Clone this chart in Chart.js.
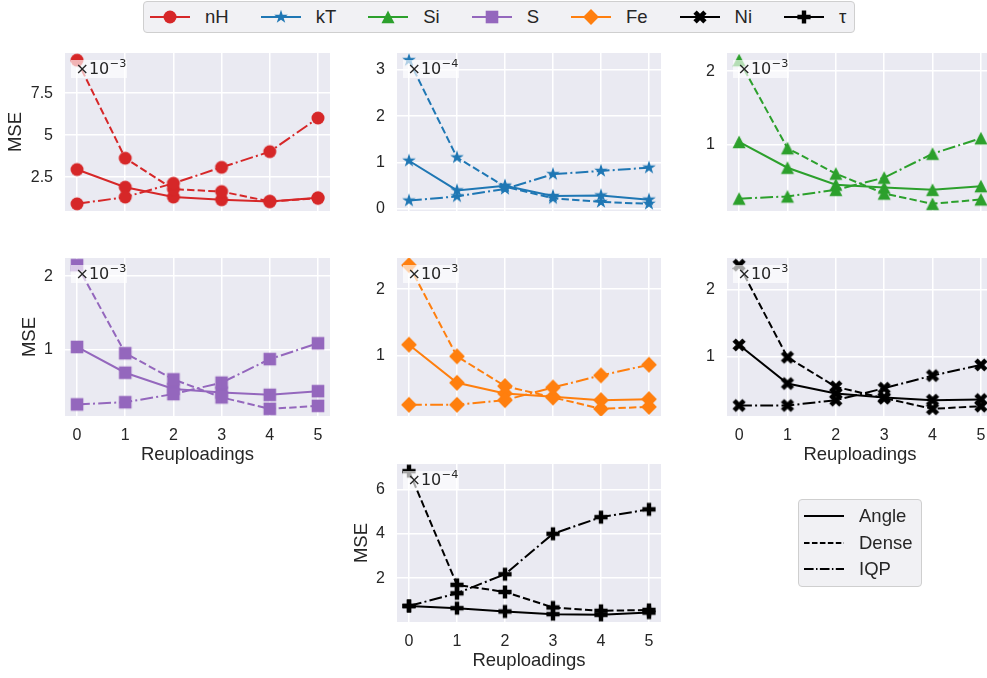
<!DOCTYPE html>
<html>
<head>
<meta charset="utf-8">
<script src="https://cdn.jsdelivr.net/npm/chart.js@4.4.1/dist/chart.umd.min.js"></script>
<style>
  body { margin: 0; width: 987px; height: 678px; overflow: hidden; background: #fff; position: relative;
         font-family: "Liberation Sans", Arial, sans-serif; color: #262626; }
  canvas.panel { position: absolute; }
  .legend { position: absolute; box-sizing: border-box; background: #f1f1f4; border: 1px solid #cfcfcf;
            border-radius: 4px; font-size: 18.5px; }
  #legendTop { left: 143px; top: 1px; height: 32px; padding-left: 6px; padding-right: 8px; display: flex; align-items: center; }
  #legendTop .item { display: flex; align-items: center; margin-right: 32px; }
  #legendTop .item:last-child { margin-right: 0; }
  #legendTop canvas, #legendMethods canvas { display: block; margin-right: 15px; }
  #legendMethods { left: 798px; top: 499px; width: 124px; height: 88px; padding: 2.5px 0 0 5px; }
  #legendMethods .item { display: flex; align-items: center; height: 26.7px; }
</style>
</head>
<body>
<div id="legendTop" class="legend"></div>
<div id="legendMethods" class="legend"></div>
<script>
// x values and method names
const reuploadings = [0, 1, 2, 3, 4, 5];
const xTicks = [0, 1, 2, 3, 4, 5];
const methodNames = ['Angle', 'Dense', 'IQP'];

// nH (x1e-3)
const nHAngle = [2.96, 1.91, 1.32, 1.16, 1.06, 1.28];
const nHDense = [9.46, 3.63, 1.79, 1.65, 1.06, 1.25];
const nHIQP   = [0.92, 1.32, 2.14, 3.09, 4.02, 6.02];
// kT (x1e-4)
const kTAngle = [1.04, 0.40, 0.50, 0.28, 0.29, 0.20];
const kTDense = [3.21, 1.11, 0.48, 0.23, 0.15, 0.11];
const kTIQP   = [0.18, 0.27, 0.43, 0.75, 0.82, 0.89];
// Si (x1e-3)
const siAngle = [1.04, 0.69, 0.46, 0.42, 0.39, 0.44];
const siDense = [2.15, 0.955, 0.61, 0.34, 0.20, 0.26];
const siIQP   = [0.27, 0.30, 0.39, 0.555, 0.88, 1.09];
// S (x1e-3)
const sAngle = [1.04, 0.69, 0.47, 0.42, 0.39, 0.44];
const sDense = [2.15, 0.955, 0.60, 0.355, 0.20, 0.24];
const sIQP   = [0.26, 0.29, 0.40, 0.555, 0.875, 1.09];
// Fe (x1e-3)
const feAngle = [1.17, 0.60, 0.44, 0.39, 0.34, 0.355];
const feDense = [2.36, 0.995, 0.55, 0.38, 0.21, 0.24];
const feIQP   = [0.27, 0.27, 0.34, 0.53, 0.71, 0.87];
// Ni (x1e-3)
const niAngle = [1.17, 0.59, 0.44, 0.38, 0.34, 0.35];
const niDense = [2.37, 0.985, 0.54, 0.37, 0.21, 0.25];
const niIQP   = [0.26, 0.26, 0.34, 0.52, 0.71, 0.87];
// tau (x1e-4)
const tauAngle = [0.75, 0.65, 0.50, 0.38, 0.35, 0.45];
const tauDense = [6.82, 1.70, 1.38, 0.68, 0.53, 0.57];
const tauIQP   = [0.75, 1.32, 2.18, 4.00, 4.75, 5.10];

// y tick values / labels
const nHTicks = [2.5, 5, 7.5];   const nHTickLabels = ['2.5', '5', '7.5'];
const kTTicks = [0, 1, 2, 3];    const kTTickLabels = ['0', '1', '2', '3'];
const oneTwoTicks = [1, 2];      const oneTwoTickLabels = ['1', '2'];
const tauTicks = [2, 4, 6];      const tauTickLabels = ['2', '4', '6'];

const TICK_FONT = { family: 'Liberation Sans', size: 16 };
const LABEL_FONT = { family: 'Liberation Sans', size: 18.5 };
const TEXT = '#262626';
const DASHES = [[], [7.4, 3.2], [12.8, 3.2, 2, 3.2]];
const TOP_PAD = 12, RIGHT_PAD = 12;

// box = plot area [left, top, width, height]
const panels = [
  { label: 'nH', color: '#d62728', marker: 'circle',   series: [nHAngle, nHDense, nHIQP],    ticks: nHTicks, tickLabels: nHTickLabels, exp: '\u22123', box: [65, 53, 265, 158],  showX: false, yTitleX: 16.3 },
  { label: 'kT', color: '#1f77b4', marker: 'star',     series: [kTAngle, kTDense, kTIQP],    ticks: kTTicks, tickLabels: kTTickLabels, exp: '\u22124', box: [397, 53, 264, 158], showX: false },
  { label: 'Si', color: '#2ca02c', marker: 'triangle', series: [siAngle, siDense, siIQP],    ticks: oneTwoTicks, tickLabels: oneTwoTickLabels, exp: '\u22123', box: [727, 53, 266, 158], showX: false },
  { label: 'S',  color: '#9467bd', marker: 'square',   series: [sAngle, sDense, sIQP],       ticks: oneTwoTicks, tickLabels: oneTwoTickLabels, exp: '\u22123', box: [65, 258, 265, 158], showX: true, yTitleX: 30 },
  { label: 'Fe', color: '#ff7f0e', marker: 'diamond',  series: [feAngle, feDense, feIQP],    ticks: oneTwoTicks, tickLabels: oneTwoTickLabels, exp: '\u22123', box: [397, 258, 264, 158], showX: false },
  { label: 'Ni', color: '#000000', marker: 'x',        series: [niAngle, niDense, niIQP],    ticks: oneTwoTicks, tickLabels: oneTwoTickLabels, exp: '\u22123', box: [727, 258, 266, 158], showX: true },
  { label: '\u03c4', color: '#000000', marker: 'plus', series: [tauAngle, tauDense, tauIQP], ticks: tauTicks, tickLabels: tauTickLabels, exp: '\u22124', box: [397, 464, 264, 158], showX: true, yTitleX: 362.5 }
];

// matplotlib-like marker shapes
function markerPath(ctx, shape) {
  ctx.beginPath();
  if (shape === 'circle') {
    ctx.arc(0, 0, 6.5, 0, Math.PI * 2);
  } else if (shape === 'square') {
    ctx.rect(-6.3, -6.3, 12.6, 12.6);
  } else if (shape === 'diamond') {
    ctx.moveTo(0, -7.9); ctx.lineTo(7.9, 0); ctx.lineTo(0, 7.9); ctx.lineTo(-7.9, 0); ctx.closePath();
  } else if (shape === 'triangle') {
    ctx.moveTo(0, -6.5); ctx.lineTo(6.5, 6.3); ctx.lineTo(-6.5, 6.3); ctx.closePath();
  } else if (shape === 'star') {
    for (let i = 0; i < 10; i++) {
      const r = i % 2 ? 7.2 * 0.382 : 7.2;
      const a = -Math.PI / 2 + i * Math.PI / 5;
      i ? ctx.lineTo(r * Math.cos(a), r * Math.sin(a)) : ctx.moveTo(r * Math.cos(a), r * Math.sin(a));
    }
    ctx.closePath();
  } else if (shape === 'x') {
    const pts = [[-1, -2], [0, -1], [1, -2], [2, -1], [1, 0], [2, 1], [1, 2], [0, 1], [-1, 2], [-2, 1], [-1, 0], [-2, -1]];
    pts.forEach(([x, y], i) => i ? ctx.lineTo(x * 3.3, y * 3.3) : ctx.moveTo(x * 3.3, y * 3.3));
    ctx.closePath();
  } else if (shape === 'plus') {
    const pts = [[-1, -3], [1, -3], [1, -1], [3, -1], [3, 1], [1, 1], [1, 3], [-1, 3], [-1, 1], [-3, 1], [-3, -1], [-1, -1]];
    pts.forEach(([x, y], i) => i ? ctx.lineTo(x * 2.2, y * 2.2) : ctx.moveTo(x * 2.2, y * 2.2));
    ctx.closePath();
  }
}

function makeMarker(shape, color) {
  const c = document.createElement('canvas');
  c.width = 20; c.height = 20;
  const ctx = c.getContext('2d');
  ctx.translate(10, 10);
  ctx.fillStyle = color;
  markerPath(ctx, shape);
  ctx.fill();
  return c;
}

function drawHandle(c, color, dash, marker) {
  const ctx = c.getContext('2d');
  const cy = c.height / 2;
  ctx.strokeStyle = color; ctx.lineWidth = 2; ctx.setLineDash(dash);
  ctx.beginPath(); ctx.moveTo(0, cy); ctx.lineTo(c.width, cy); ctx.stroke();
  if (marker) {
    ctx.setLineDash([]);
    ctx.translate(c.width / 2, cy);
    ctx.fillStyle = color;
    markerPath(ctx, marker);
    ctx.fill();
  }
}

const plotBg = {
  id: 'plotBg',
  beforeDraw(chart) {
    const { ctx, chartArea: a } = chart;
    ctx.save();
    ctx.fillStyle = '#eaeaf2';
    ctx.fillRect(a.left, a.top, a.width, a.height);
    ctx.restore();
  }
};

// "x10^-n" offset text inside the top-left corner
const offsetLabel = {
  id: 'offsetLabel',
  afterDatasetsDraw(chart, args, opts) {
    const { ctx, chartArea: a } = chart;
    ctx.save();
    ctx.fillStyle = 'rgba(255,255,255,0.65)';
    ctx.fillRect(a.left + 6, a.top + 7, 56, 18);
    ctx.fillStyle = TEXT;
    ctx.textBaseline = 'alphabetic';
    ctx.font = '16px "DejaVu Sans"';
    ctx.fillText('\u00d710', a.left + 10.5, a.top + 20.5);
    const w = ctx.measureText('\u00d710').width;
    ctx.font = '11.2px "DejaVu Sans"';
    ctx.fillText(opts.exp, a.left + 11 + w, a.top + 14);
    ctx.restore();
  }
};

panels.forEach(p => {
  const [px, py, pw, ph] = p.box;
  const yW = p.yTitleX != null ? Math.round(px - (p.yTitleX - 11.1)) : 40;
  const xH = p.showX ? 50 : 12;
  const cv = document.createElement('canvas');
  cv.className = 'panel';
  const w = yW + pw + RIGHT_PAD, h = TOP_PAD + ph + xH;
  cv.width = w; cv.height = h;
  cv.style.left = (px - yW) + 'px';
  cv.style.top = (py - TOP_PAD) + 'px';
  cv.style.width = w + 'px'; cv.style.height = h + 'px';
  document.body.appendChild(cv);

  const all = p.series.flat();
  const lo = Math.min(...all), hi = Math.max(...all), m = (hi - lo) * 0.05;
  const pointImg = makeMarker(p.marker, p.color);

  new Chart(cv, {
    type: 'line',
    data: {
      datasets: p.series.map((vals, i) => ({
        label: methodNames[i],
        data: reuploadings.map((x, j) => ({ x: x, y: vals[j] })),
        borderColor: p.color,
        backgroundColor: p.color,
        borderWidth: 2,
        borderDash: DASHES[i],
        pointStyle: pointImg,
        pointRadius: 7,
        order: 2 - i
      }))
    },
    options: {
      responsive: false,
      maintainAspectRatio: false,
      animation: false,
      events: [],
      layout: { autoPadding: false, padding: { top: TOP_PAD, right: RIGHT_PAD, left: 0, bottom: 0 } },
      plugins: { legend: { display: false }, tooltip: { enabled: false }, offsetLabel: { exp: p.exp } },
      scales: {
        x: {
          type: 'linear', min: -0.25, max: 5.25,
          afterBuildTicks: s => { s.ticks = xTicks.map(v => ({ value: v })); },
          afterFit: s => { s.height = xH; },
          grid: { color: '#ffffff', lineWidth: 1.5, drawTicks: true, tickLength: 10, tickColor: 'rgba(0,0,0,0)' },
          border: { display: false },
          ticks: { display: p.showX, padding: 0, color: TEXT, font: TICK_FONT, callback: v => String(v) },
          title: { display: p.showX, text: 'Reuploadings', padding: 0, color: TEXT, font: LABEL_FONT }
        },
        y: {
          type: 'linear', min: lo - m, max: hi + m,
          afterBuildTicks: s => { s.ticks = p.ticks.map(v => ({ value: v })); },
          afterFit: s => { s.width = yW; },
          grid: { color: '#ffffff', lineWidth: 1.5, drawTicks: true, tickLength: 12, tickColor: 'rgba(0,0,0,0)' },
          border: { display: false },
          ticks: { padding: 0, color: TEXT, font: TICK_FONT, callback: (v, i) => p.tickLabels[i] },
          title: { display: p.yTitleX != null, text: 'MSE', padding: 0, color: TEXT, font: LABEL_FONT }
        }
      }
    },
    plugins: [plotBg, offsetLabel]
  });
});

// legends
const legendTop = document.getElementById('legendTop');
panels.forEach(p => {
  const item = document.createElement('div');
  item.className = 'item';
  const c = document.createElement('canvas');
  c.width = 40; c.height = 22;
  drawHandle(c, p.color, [], p.marker);
  const s = document.createElement('span');
  s.textContent = p.label;
  item.append(c, s);
  legendTop.appendChild(item);
});

const legendMethods = document.getElementById('legendMethods');
methodNames.forEach((name, i) => {
  const item = document.createElement('div');
  item.className = 'item';
  const c = document.createElement('canvas');
  c.width = 40; c.height = 10;
  drawHandle(c, '#000000', DASHES[i].map(d => d * 0.75), null);
  const s = document.createElement('span');
  s.textContent = name;
  item.append(c, s);
  legendMethods.appendChild(item);
});
</script>
</body>
</html>
